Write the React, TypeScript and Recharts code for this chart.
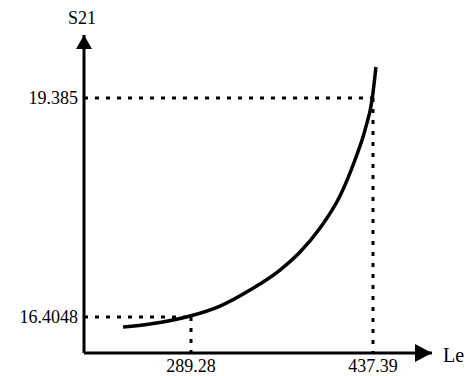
import React from 'react';
import {
  LineChart,
  Line,
  XAxis,
  YAxis,
  ReferenceLine,
  ReferenceDot,
} from 'recharts';

// curve points (Le vs S21)
const leValues = [234.0, 255.9, 288.5, 312.9, 337.3, 361.7, 378.0, 394.3, 410.5, 422.7, 430.9, 436.6, 439.8];
const s21Values = [16.268, 16.309, 16.418, 16.554, 16.772, 17.044, 17.289, 17.616, 18.051, 18.541, 18.95, 19.358, 19.807];

const xTicks = [289.28, 437.39];
const yTicks = [16.4048, 19.385];

const xDomain = [202.2, 485.4];
const yDomain = [15.915, 20.242];

const data = leValues.map((le, i) => ({ le, s21: s21Values[i] }));

const font = '"Liberation Serif", "DejaVu Serif", serif';
const dotted = { stroke: '#000', strokeWidth: 3, strokeDasharray: '4 7' };

const UpArrow = ({ cx, cy }: any) => (
  <g>
    <polygon points={`${cx},${cy} ${cx - 8},${cy + 14} ${cx + 8},${cy + 14}`} fill="#000" />
    <text x={cx - 2} y={cy - 11} textAnchor="middle" fontFamily={font} fontSize={18} fill="#000">
      S21
    </text>
  </g>
);

const RightArrow = ({ cx, cy }: any) => (
  <g>
    <polygon points={`${cx},${cy} ${cx - 17},${cy - 9} ${cx - 17},${cy + 9}`} fill="#000" />
    <text x={cx + 11} y={cy + 9} fontFamily={font} fontSize={20} fill="#000">
      Le
    </text>
  </g>
);

export default function App() {
  return (
    <div style={{ position: 'absolute', left: 0, top: 0, background: '#fff' }}>
      <LineChart width={470} height={376} data={data} margin={{ top: 35, right: 38, bottom: 0, left: 0 }}>
        <XAxis
          dataKey="le"
          type="number"
          domain={xDomain}
          allowDataOverflow
          ticks={xTicks}
          tickFormatter={(v) => String(v)}
          height={23}
          tickSize={0}
          tickMargin={6}
          axisLine={{ stroke: '#000', strokeWidth: 3 }}
          tickLine={false}
          tick={{ fontFamily: font, fontSize: 18, fill: '#000' }}
          interval={0}
        />
        <YAxis
          type="number"
          domain={yDomain}
          allowDataOverflow
          ticks={yTicks}
          tickFormatter={(v) => String(v)}
          width={84}
          tickSize={0}
          tickMargin={6}
          axisLine={{ stroke: '#000', strokeWidth: 3 }}
          tickLine={false}
          tick={{ fontFamily: font, fontSize: 18, fill: '#000' }}
          interval={0}
        />
        <ReferenceLine segment={[{ x: xDomain[0], y: 19.385 }, { x: 437.39, y: 19.385 }]} {...dotted} />
        <ReferenceLine segment={[{ x: xDomain[0], y: 16.4048 }, { x: 289.28, y: 16.4048 }]} {...dotted} />
        <ReferenceLine segment={[{ x: 289.28, y: 16.4048 }, { x: 289.28, y: yDomain[0] }]} {...dotted} />
        <ReferenceLine segment={[{ x: 437.39, y: 19.385 }, { x: 437.39, y: yDomain[0] }]} {...dotted} />
        <Line
          type="monotone"
          dataKey="s21"
          stroke="#000"
          strokeWidth={3.5}
          dot={false}
          isAnimationActive={false}
        />
        <ReferenceDot x={xDomain[0]} y={yDomain[1]} r={0} shape={UpArrow} />
        <ReferenceDot x={xDomain[1]} y={yDomain[0]} r={0} shape={RightArrow} />
      </LineChart>
    </div>
  );
}
